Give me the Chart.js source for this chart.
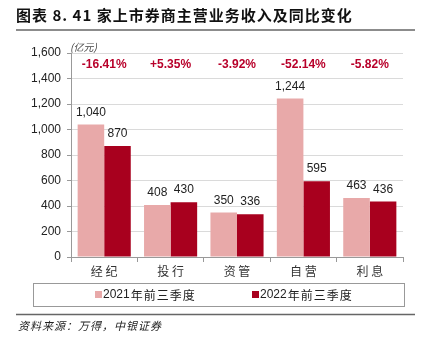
<!DOCTYPE html>
<html><head><meta charset="utf-8">
<script src="https://cdn.jsdelivr.net/npm/chart.js@4/dist/chart.umd.min.js"></script>
<style>html,body{margin:0;padding:0;background:#fff;}canvas{display:block;}</style>
</head><body>
<canvas id="c" width="427" height="353"></canvas>
<script>
const categories = ['经 纪', '投 行', '资 管', '自 营', '利 息'];
const series2021 = [1040, 408, 350, 1244, 463];
const series2022 = [870, 430, 336, 595, 436];
const changeLabels = ['-16.41%', '+5.35%', '-3.92%', '-52.14%', '-5.82%'];
const seriesNames = ['2021年前三季度', '2022年前三季度'];
const yTicks = [0, 200, 400, 600, 800, 1000, 1200, 1400, 1600];

const C21 = '#E8A9A9', C22 = '#A8001E';
const FONT = '"Liberation Sans", Arial, sans-serif';
const CJK = '"Noto Sans CJK SC", sans-serif';

const deco = {
  id: 'deco',
  afterDraw(chart) {
    const ctx = chart.ctx;
    ctx.save();
    // title
    ctx.fillStyle = '#111';
    ctx.textBaseline = 'middle';
    ctx.font = 'bold 15px ' + CJK;
    ctx.letterSpacing = '1px';
    ctx.fillText('图表 8. 41 家上市券商主营业务收入及同比变化', 16, 15);
    ctx.letterSpacing = '0px';
    // title line
    ctx.strokeStyle = '#666'; ctx.lineWidth = 1.5;
    ctx.beginPath(); ctx.moveTo(16, 30); ctx.lineTo(415, 30); ctx.stroke();
    // bottom line
    ctx.beginPath(); ctx.moveTo(16, 314.5); ctx.lineTo(415, 314.5); ctx.stroke();
    // source
    ctx.fillStyle = '#222';
    ctx.font = 'italic 11px ' + CJK;
    ctx.letterSpacing = '1px';
    ctx.fillText('资料来源：万得，中银证券', 18, 326);
    ctx.letterSpacing = '0px';
    // unit
    ctx.fillStyle = '#444';
    ctx.font = 'italic 10px ' + CJK;
    ctx.fillText('(亿元)', 70, 47);
    // percentages
    const xs = chart.scales.x;
    ctx.fillStyle = '#B8002A';
    ctx.font = 'bold 12px ' + FONT;
    ctx.textAlign = 'center';
    changeLabels.forEach((t, i) => {
      ctx.fillText(t, xs.getPixelForValue(i), 65);
    });
    // value labels
    ctx.fillStyle = '#222';
    ctx.font = '12px ' + FONT;
    ctx.textBaseline = 'bottom';
    chart.data.datasets.forEach((ds, di) => {
      chart.getDatasetMeta(di).data.forEach((el, i) => {
        ctx.fillText(ds.data[i].toLocaleString('en-US'), el.x, el.y - 6);
      });
    });
    // legend box
    ctx.strokeStyle = '#999'; ctx.lineWidth = 1;
    ctx.strokeRect(33.5, 283.5, 371, 23);
    ctx.textAlign = 'left';
    ctx.textBaseline = 'middle';
    const items = [[95, C21], [252, C22]];
    items.forEach(([x, col], i) => {
      ctx.fillStyle = col;
      ctx.fillRect(x, 291, 7, 7);
      ctx.fillStyle = '#222';
      ctx.font = '12px ' + FONT;
      ctx.fillText(seriesNames[i].slice(0, 4), x + 8, 295);
      const w = ctx.measureText(seriesNames[i].slice(0, 4)).width;
      ctx.font = '12px ' + CJK;
      ctx.letterSpacing = '1px';
      ctx.fillText(seriesNames[i].slice(4), x + 9 + w, 295);
      ctx.letterSpacing = '0px';
    });
    ctx.restore();
  }
};

new Chart(document.getElementById('c'), {
  type: 'bar',
  data: {
    labels: categories,
    datasets: [
      { label: seriesNames[0], data: series2021, backgroundColor: C21, categoryPercentage: 0.8, barPercentage: 1 },
      { label: seriesNames[1], data: series2022, backgroundColor: C22, categoryPercentage: 0.8, barPercentage: 1 }
    ]
  },
  options: {
    responsive: false,
    animation: false,
    layout: { padding: { top: 53, right: 24, bottom: 71, left: 0 } },
    plugins: { legend: { display: false }, tooltip: { enabled: false } },
    scales: {
      y: {
        min: 0, max: 1600,
        afterBuildTicks: s => { s.ticks = yTicks.map(v => ({ value: v })); },
        afterFit: s => { s.width = 71; },
        border: { display: true, color: '#999' },
        grid: { color: '#DADADA', drawTicks: true, tickLength: 4, tickColor: '#999' },
        ticks: {
          color: '#222', font: { family: FONT, size: 12 }, padding: 6,
          callback: v => v.toLocaleString('en-US')
        }
      },
      x: {
        afterFit: s => { s.height = 25; },
        border: { display: true, color: '#999' },
        grid: { display: true, offset: true, drawOnChartArea: false, tickLength: 5, tickColor: '#999' },
        ticks: { color: '#333', font: { family: CJK, size: 12 }, padding: 2 }
      }
    }
  },
  plugins: [deco]
});
</script>
</body></html>
